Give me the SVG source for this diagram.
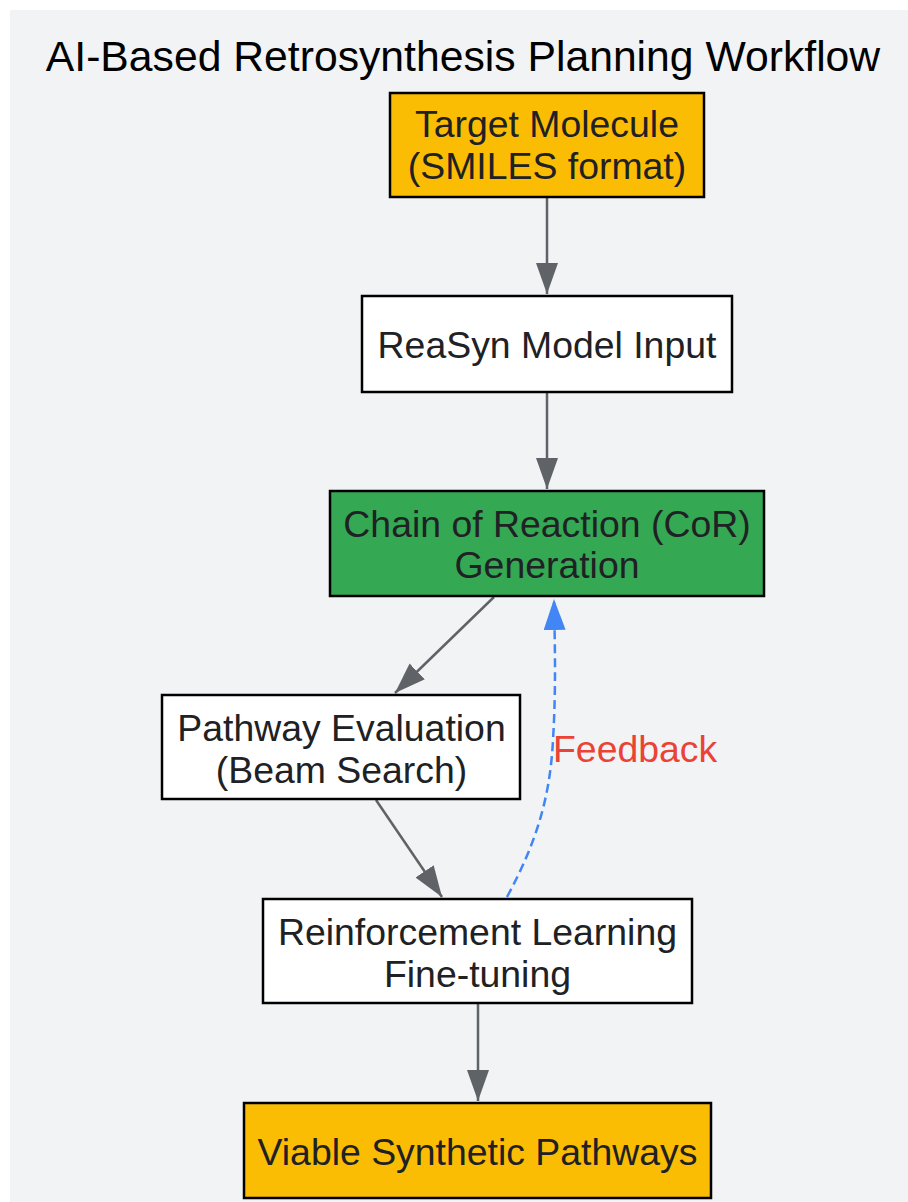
<svg xmlns="http://www.w3.org/2000/svg" width="908" height="1202" viewBox="0 0 908 1202">
<defs>
<style>
.node rect{stroke:#000;stroke-width:2.5}
.lbl{font-family:"Liberation Sans",Arial,sans-serif;font-size:37.4px;fill:#202124;text-anchor:middle}
.title{font-family:"Liberation Sans",Arial,sans-serif;font-size:42.7px;fill:#000;text-anchor:middle}
.edge{fill:none;stroke:#5f6368;stroke-width:2.5}
.fb{fill:none;stroke:#4285f4;stroke-width:2.5;stroke-dasharray:9,5}
.elbl{font-family:"Liberation Sans",Arial,sans-serif;font-size:37.4px;fill:#ea4335}
</style>
<marker id="ah" markerUnits="userSpaceOnUse" markerWidth="32" markerHeight="24" refX="31" refY="11" orient="auto" viewBox="0 0 32 24">
<path d="M0,0 L31,11 L0,22 z" fill="#5f6368"/>
</marker>
<marker id="ahb" markerUnits="userSpaceOnUse" markerWidth="32" markerHeight="24" refX="31" refY="11" orient="auto" viewBox="0 0 32 24">
<path d="M0,0 L31,11 L0,22 z" fill="#4285f4"/>
</marker>
</defs>
<rect x="10" y="10" width="898" height="1192" fill="#f1f3f4"/>
<text class="title" x="463" y="71">AI-Based Retrosynthesis Planning Workflow</text>
<g id="connectors">
<path class="edge" d="M547,197 L547,294" marker-end="url(#ah)"/>
<path class="edge" d="M547,392 L547,489" marker-end="url(#ah)"/>
<path class="edge" d="M494,597 L395,693" marker-end="url(#ah)"/>
<path class="edge" d="M376,800 L442,897" marker-end="url(#ah)"/>
<path class="fb" d="M507,897 C535,845 550,800 553,740 C556,690 555,650 554,599" marker-end="url(#ahb)"/>
<path class="edge" d="M478,1004 L478,1101" marker-end="url(#ah)"/>
<text class="elbl" x="553" y="762">Feedback</text>
</g>
<g id="target" class="node">
<rect x="390" y="93" width="314" height="104" fill="#fbbc04"/>
<text class="lbl" x="547" y="137">Target Molecule</text>
<text class="lbl" x="547" y="179">(SMILES format)</text>
</g>
<g id="reasyn" class="node">
<rect x="362" y="296" width="370" height="96" fill="#fff"/>
<text class="lbl" x="547" y="358">ReaSyn Model Input</text>
</g>
<g id="cor" class="node">
<rect x="330" y="491" width="434" height="105" fill="#34a853"/>
<text class="lbl" x="547" y="537">Chain of Reaction (CoR)</text>
<text class="lbl" x="547" y="578">Generation</text>
</g>
<g id="eval" class="node">
<rect x="162" y="695" width="358" height="104" fill="#fff"/>
<text class="lbl" x="341.5" y="741">Pathway Evaluation</text>
<text class="lbl" x="341.5" y="783">(Beam Search)</text>
</g>
<g id="rl" class="node">
<rect x="263" y="899" width="429" height="104" fill="#fff"/>
<text class="lbl" x="477.5" y="945">Reinforcement Learning</text>
<text class="lbl" x="477.5" y="987">Fine-tuning</text>
</g>
<g id="viable" class="node">
<rect x="244" y="1103" width="467" height="95" fill="#fbbc04"/>
<text class="lbl" x="477.5" y="1165">Viable Synthetic Pathways</text>
</g>
</svg>
